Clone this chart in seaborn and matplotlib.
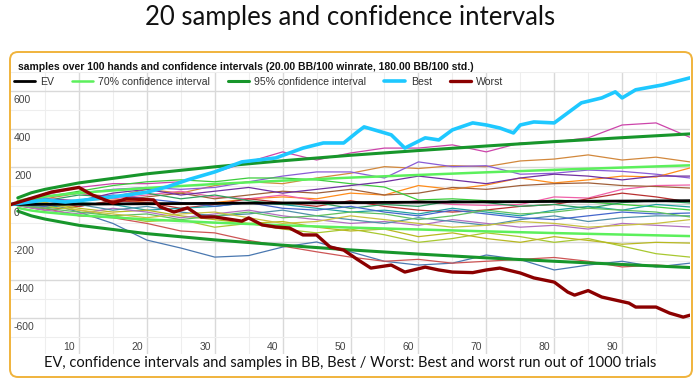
import matplotlib.pyplot as plt
import seaborn as sns
import numpy as np
import pandas as pd
from matplotlib.patches import FancyBboxPatch

hands = list(range(0, 101, 5))

sample_01 = [0, 50, 90, 110, 110, 120, 170, 225, 278, 235, 272, 298, 298, 315, 278, 325, 331, 352, 420, 431, 355]
sample_02 = [0, 30, 60, 40, 80, 60, 100, 120, 110, 140, 165, 200, 190, 205, 200, 230, 240, 262, 235, 250, 225]
sample_03 = [0, 40, 60, 80, 90, 80, 90, 120, 150, 172, 172, 140, 225, 200, 205, 160, 165, 182, 175, 160, 140]
sample_04 = [0, -20, 20, 30, 10, 0, 10, 30, 40, 30, 60, 50, 100, 80, 103, 140, 114, 130, 150, 145, 193]
sample_05 = [0, 40, 60, 30, 50, 70, 40, 30, 50, 20, 10, 0, 20, 0, -5, 0, 40, 34, 80, 100, 103]
sample_06 = [0, 20, -10, 20, 40, 60, 30, 50, 70, 60, 80, 50, 60, 90, 80, 100, 110, 114, 100, 95, 87]
sample_07 = [0, -30, -10, 20, 10, -20, 0, 30, 10, -10, 20, -10, -30, -40, -29, -10, 0, 30, 60, 40, 13]
sample_08 = [0, 40, 70, 100, 120, 130, 120, 140, 140, 130, 110, 92, 24, 30, 20, 10, 24, 13, 0, -13, -29]
sample_09 = [0, -20, 10, 0, -30, -20, -10, 10, 0, -20, -40, -30, -50, -20, -40, -60, -30, -10, -30, 0, -13]
sample_10 = [0, 20, 50, 40, 60, 30, 50, 20, 0, 10, -20, 0, -10, 20, 10, -10, 0, -20, 10, 20, 8]
sample_11 = [0, 10, -40, -100, -188, -230, -278, -270, -225, -198, -250, -300, -320, -310, -267, -291, -346, -320, -300, -330, -310]
sample_12 = [0, -20, -60, -70, -100, -140, -150, -190, -220, -250, -278, -300, -290, -310, -300, -290, -280, -300, -330, -320, -331]
sample_13 = [0, -10, -30, -60, -90, -80, -120, -100, -130, -150, -130, -160, -200, -180, -150, -170, -200, -180, -220, -260, -278]
sample_14 = [0, 10, -20, -40, -30, -60, -80, -100, -90, -120, -140, -130, -170, -150, -180, -200, -170, -190, -210, -200, -204]
sample_15 = [0, -30, -50, -20, -40, -70, -50, -30, -60, -80, -100, -90, -110, -80, -100, -120, -110, -130, -100, -110, -119]
sample_16 = [0, 20, 0, -30, -10, -40, -60, -50, -30, -60, -80, -100, -70, -90, -110, -80, -60, -90, -70, -60, -60]
sample_17 = [0, -10, 20, 50, 30, 10, -10, 10, -20, -30, -10, -40, -60, -30, -50, -70, -80, -60, -40, -50, -45]
sample_18 = [0, 30, 20, 60, 80, 50, 70, 90, 60, 80, 100, 120, 150, 130, 110, 140, 160, 150, 130, 150, 150]
sample_19 = [0, -20, -40, -60, -50, -80, -60, -40, -70, -60, -40, -50, -80, -60, -30, -50, -40, -20, -30, -40, -66]
sample_20 = [0, 10, -30, -50, -70, -50, -40, -70, -100, -90, -60, -80, -100, -120, -110, -90, -100, -120, -110, -100, -80]

sample_colors = ["#cc44aa", "#d2883c", "#8a5cd6", "#ff8c1a", "#f060a8",
                 "#a0603a", "#b83030", "#3ccc3c", "#20a0a0", "#2e9e5e",
                 "#4a78b0", "#cd5555", "#a8c830", "#b8b820", "#b070c0",
                 "#5090a8", "#4466cc", "#7030a0", "#60c060", "#c8c040"]

# EV line
ev_hands = [0, 100]
ev_values = [0, 20]

# confidence interval curves read at these hands
ci_hands = [1, 3, 5, 10, 20, 30, 40, 50, 60, 70, 80, 90, 100]
ci70_upper = [19, 33, 43, 61, 87, 108, 126, 142, 156, 170, 183, 195, 207]
ci70_lower = [-18, -32, -41, -57, -79, -96, -110, -122, -132, -142, -151, -159, -167]
ci95_upper = [35, 62, 80, 114, 162, 199, 231, 260, 285, 309, 332, 353, 373]
ci95_lower = [-35, -60, -77, -110, -154, -187, -215, -240, -262, -282, -300, -317, -333]

best_hands = [0, 5, 8, 11, 15, 20, 23, 26, 30, 34, 39, 43, 46, 49, 51, 52, 56, 58, 61, 63,
              65, 68, 70, 72, 74, 75, 77, 80, 82, 84, 87, 89, 90, 92, 96, 100]
best_values = [0, 24, 13, 24, 40, 65, 93, 130, 172, 225, 246, 298, 325, 325, 383, 410, 368, 298, 352, 341,
               394, 431, 420, 404, 378, 420, 436, 431, 484, 537, 563, 595, 563, 606, 632, 669]

worst_hands = [0, 6, 10, 12, 15, 17, 21, 22, 24, 26, 28, 30, 34, 35, 37, 39, 41, 43, 45, 47, 49,
               51, 53, 56, 58, 61, 63, 65, 68, 70, 72, 75, 77, 80, 82, 83, 85, 87, 89, 91, 92,
               95, 97, 99, 100]
worst_values = [0, 66, 90, 50, 8, 30, 24, -13, -40, -18, -66, -66, -88, -71, -108, -119, -124, -161, -161, -225, -241,
                -290, -336, -320, -357, -331, -346, -357, -360, -346, -336, -362, -388, -410, -463, -479, -455, -489, -505, -521, -542,
                -542, -574, -595, -585]

x_ticks = [10, 20, 30, 40, 50, 60, 70, 80, 90]
y_ticks = [-600, -400, -200, 0, 200, 400, 600]

sns.set_theme(style="white")
plt.rcParams["font.family"] = ["Liberation Sans", "DejaVu Sans"]

fig = plt.figure(figsize=(7, 3.83), dpi=100)
ax = fig.add_axes([11 / 700, 29 / 383, 679 / 700, 282 / 383])

samples = [sample_01, sample_02, sample_03, sample_04, sample_05, sample_06, sample_07,
           sample_08, sample_09, sample_10, sample_11, sample_12, sample_13, sample_14,
           sample_15, sample_16, sample_17, sample_18, sample_19, sample_20]
df = pd.DataFrame({
    "hand": hands * len(samples),
    "bb": np.concatenate(samples),
    "sample": np.repeat(np.arange(len(samples)), len(hands)),
})
sns.lineplot(data=df, x="hand", y="bb", hue="sample", palette=sample_colors,
             estimator=None, units="sample", lw=0.9, legend=False, ax=ax, zorder=2)

sns.lineplot(x=ci_hands, y=ci70_upper, color="#5cf05c", lw=1.8, ax=ax, label="70% confidence interval", zorder=3)
sns.lineplot(x=ci_hands, y=ci70_lower, color="#5cf05c", lw=1.8, ax=ax, zorder=3)
sns.lineplot(x=ci_hands, y=ci95_upper, color="#17962b", lw=2.2, ax=ax, label="95% confidence interval", zorder=3)
sns.lineplot(x=ci_hands, y=ci95_lower, color="#17962b", lw=2.2, ax=ax, zorder=3)
sns.lineplot(x=ev_hands, y=ev_values, color="black", lw=2.0, ax=ax, label="EV", zorder=4)
sns.lineplot(x=best_hands, y=best_values, color="#1ec8ff", lw=2.6, ax=ax, label="Best", zorder=5)
sns.lineplot(x=worst_hands, y=worst_values, color="#8b0000", lw=2.4, ax=ax, label="Worst", zorder=5)

ax.set_xlim(0, 100)
ax.set_ylim(-790, 700)
ax.set_xticks(x_ticks)
ax.set_xticks(range(5, 100, 10), minor=True)
ax.set_yticks(y_ticks)
ax.set_yticks(range(-700, 701, 200), minor=True)
ax.grid(which="major", color="#d9d9d9", lw=1.0)
ax.grid(which="minor", color="#eeeeee", lw=0.8)
ax.tick_params(which="both", length=0, labelbottom=False, labelleft=False)
ax.set_xlabel("")
ax.set_ylabel("")
for s in ax.spines.values():
    s.set_visible(False)

for v in y_ticks:
    ax.annotate(str(v), xy=(0, v), xycoords=("axes fraction", "data"), xytext=(3, -4),
                textcoords="offset pixels", ha="left", va="top", fontsize=7.5, color="#444444")
for v in x_ticks:
    ax.annotate(str(v), xy=(v, 0), xycoords=("data", "axes fraction"), xytext=(-4, 2),
                textcoords="offset pixels", ha="right", va="bottom", fontsize=7.5, color="#444444")

handles, labels = ax.get_legend_handles_labels()
order = ["EV", "70% confidence interval", "95% confidence interval", "Best", "Worst"]
hmap = dict(zip(labels, handles))
ax.get_legend().remove()
fig.legend([hmap[k] for k in order], order, loc="center left",
           bbox_to_anchor=(4 / 700, 1 - 82 / 383), ncol=5, frameon=False,
           fontsize=7.6, handlelength=2.0, handletextpad=0.5, columnspacing=1.7,
           labelcolor="#333333")

fig.text(18 / 700, 1 - 67 / 383,
         "samples over 100 hands and confidence intervals (20.00 BB/100 winrate, 180.00 BB/100 std.)",
         ha="left", va="center", fontsize=7.5, fontweight="bold", color="#111111")

fig.text(0.5, 1 - 17 / 383, "20 samples and confidence intervals", ha="center", va="center",
         fontsize=18.5, family=["Lato", "DejaVu Sans"], fontweight="normal", color="#111111")
fig.text(0.5, 1 - 363 / 383,
         "EV, confidence intervals and samples in BB, Best / Worst: Best and worst run out of 1000 trials",
         ha="center", va="center", fontsize=10.5, family=["Lato", "DejaVu Sans"], color="#111111")

box = FancyBboxPatch((0.10, 0.06), 6.82, 3.25, boxstyle="round,pad=0,rounding_size=0.08",
                     transform=fig.dpi_scale_trans, fill=False, ec="#f0b33c", lw=1.4, zorder=10)
fig.patches.append(box)

fig.savefig("out.png", dpi=100)
